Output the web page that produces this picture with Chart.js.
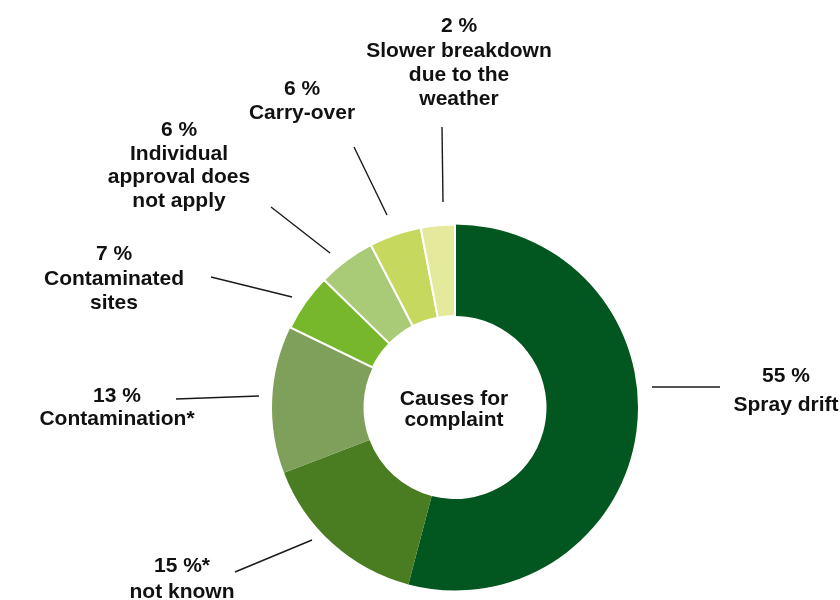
<!DOCTYPE html>
<html>
<head>
<meta charset="utf-8">
<script src="https://cdn.jsdelivr.net/npm/chart.js@4"></script>
<style>
  html, body { margin: 0; padding: 0; background: #ffffff; }
  #wrap { width: 840px; height: 600px; position: relative; }
</style>
</head>
<body>
<div id="wrap"><canvas id="c" width="840" height="600"></canvas></div>
<script>
// ---- Data ----
const categories = [
  ['Spray drift'],
  ['not known'],
  ['Contamination*'],
  ['Contaminated', 'sites'],
  ['Individual', 'approval does', 'not apply'],
  ['Carry-over'],
  ['Slower breakdown', 'due to the', 'weather']
];
const percentLabels = ['55 %', '15 %*', '13 %', '7 %', '6 %', '6 %', '2 %'];
// slice sizes as drawn (share of the ring, %)
const sliceValues = [54.1, 15.1, 13.0, 5.1, 5.1, 4.6, 3.0];
const centerTitle = ['Causes for', 'complaint'];

// ---- Styles ----
const sliceColors = ['#02561F', '#4A7D22', '#7FA05A', '#77B72B', '#A9CB77', '#C7D85E', '#E5E99B'];
const sliceBorders = [0, 0, 0, 2, 2, 2, 2];
const FONT = 'bold 21px "Liberation Sans", Arial, Helvetica, sans-serif';

// ---- Label layout (text centre x, baselines; leader line ends) ----
const labelLayout = [
  { x: 786, ys: [382, 411],           line: [652, 387, 720, 387] },
  { x: 182, ys: [572, 598],           line: [235, 572, 312, 540] },
  { x: 117, ys: [402, 425],           line: [176, 399, 259, 396] },
  { x: 114, ys: [260, 285, 309],      line: [211, 277, 292, 297] },
  { x: 179, ys: [136, 160, 183, 207], line: [271, 207, 330, 253] },
  { x: 302, ys: [95, 119],            line: [354, 147, 387, 215] },
  { x: 459, ys: [32, 57, 81, 105],    line: [442, 127, 443, 202] }
];

const labelPlugin = {
  id: 'calloutLabels',
  afterDraw(chart) {
    const ctx = chart.ctx;
    ctx.save();
    ctx.font = FONT;
    ctx.fillStyle = '#111111';
    ctx.textAlign = 'center';
    ctx.textBaseline = 'alphabetic';
    ctx.strokeStyle = '#1a1a1a';
    ctx.lineWidth = 1.4;
    labelLayout.forEach((L, i) => {
      const lines = [percentLabels[i]].concat(categories[i]);
      lines.forEach((t, k) => ctx.fillText(t, L.x, L.ys[k]));
      ctx.beginPath();
      ctx.moveTo(L.line[0], L.line[1]);
      ctx.lineTo(L.line[2], L.line[3]);
      ctx.stroke();
    });
    // centre title
    const arc = chart.getDatasetMeta(0).data[0];
    const cx = arc.x, cy = arc.y;
    ctx.fillText(centerTitle[0], cx - 1, cy - 3);
    ctx.fillText(centerTitle[1], cx - 1, cy + 18);
    ctx.restore();
  }
};

new Chart(document.getElementById('c'), {
  type: 'doughnut',
  data: {
    labels: categories.map(c => c.join(' ')),
    datasets: [{
      data: sliceValues,
      backgroundColor: sliceColors,
      borderColor: '#ffffff',
      borderWidth: sliceBorders
    }]
  },
  options: {
    responsive: false,
    animation: false,
    events: [],
    cutout: '50%',
    layout: { padding: { left: 271, right: 201, top: 223, bottom: 8 } },
    plugins: {
      legend: { display: false },
      tooltip: { enabled: false }
    }
  },
  plugins: [labelPlugin]
});
</script>
</body>
</html>
